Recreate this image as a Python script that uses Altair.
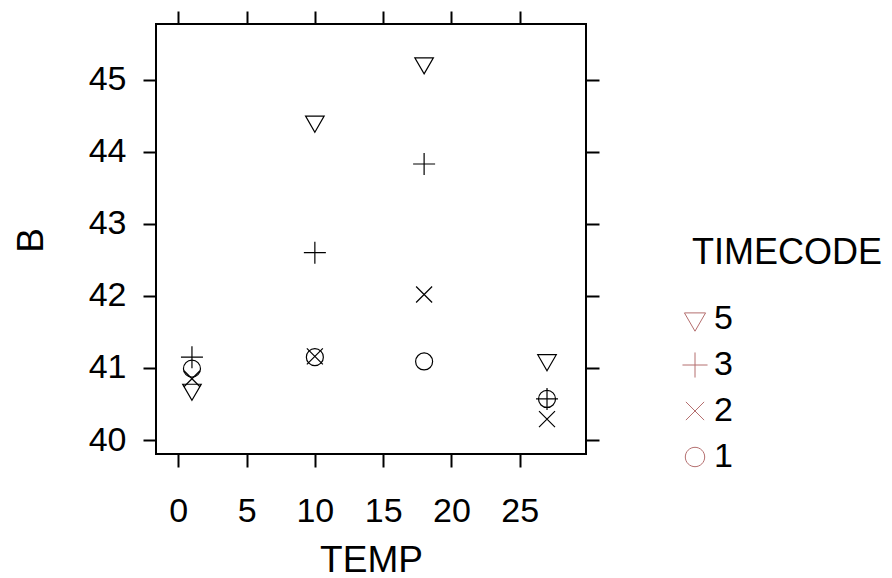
import altair as alt
import pandas as pd

# ---- data ----
temps = [1, 10, 18, 27]
timecode_order = ["5", "3", "2", "1"]
b_tc1 = [40.99, 41.15, 41.09, 40.57]
b_tc2 = [40.85, 41.16, 42.02, 40.29]
b_tc3 = [41.15, 42.60, 43.83, 40.57]
b_tc5 = [40.70, 44.42, 45.23, 41.11]
x_ticks = [0, 5, 10, 15, 20, 25]
y_ticks = [40, 41, 42, 43, 44, 45]

rows = []
for tc, vals in [("1", b_tc1), ("2", b_tc2), ("3", b_tc3), ("5", b_tc5)]:
    for t, b in zip(temps, vals):
        rows.append({"TEMP": t, "B": b, "TIMECODE": tc})
df = pd.DataFrame(rows)

FONT = "Liberation Sans"
W, H = 430, 430
X_DOM = [-1.633, 29.855]
Y_DOM = [39.806, 45.773]

tri_down = "M0,1.07L0.927,-0.535L-0.927,-0.535Z"
plus = "M-1.1,0L1.1,0M0,-1.1L0,1.1"
cross_x = "M-0.8,-0.8L0.8,0.8M-0.8,0.8L0.8,-0.8"
circle = "M0.85,0A0.85,0.85,0,1,1,-0.85,0A0.85,0.85,0,1,1,0.85,0Z"

xscale = alt.Scale(domain=X_DOM, nice=False, zero=False)
yscale = alt.Scale(domain=Y_DOM, nice=False, zero=False)

points = alt.Chart(df).mark_point(
    filled=False, stroke="black", strokeWidth=1.2, size=400, opacity=1
).encode(
    x=alt.X("TEMP:Q", scale=xscale, axis=alt.Axis(
        values=x_ticks, orient="bottom", domain=False, grid=False,
        tickSize=13, tickWidth=2, tickColor="black",
        labelFont=FONT, labelFontSize=34, labelColor="black", labelPadding=27,
        labelFlush=False,
        title="TEMP", titleFont=FONT, titleFontSize=37, titleFontWeight="normal",
        titleColor="black", titleY=117, titleBaseline="alphabetic")),
    y=alt.Y("B:Q", scale=yscale, axis=alt.Axis(
        values=y_ticks, orient="left", domain=False, grid=False,
        tickSize=13, tickWidth=2, tickColor="black",
        labelFont=FONT, labelFontSize=34, labelColor="black", labelPadding=17,
        labelFlush=False,
        title="B", titleFont=FONT, titleFontSize=37, titleFontWeight="normal",
        titleColor="black", titleX=-114, titleY=216, titleAngle=270,
        titleBaseline="alphabetic", titleAlign="center")),
    shape=alt.Shape("TIMECODE:N",
        scale=alt.Scale(domain=timecode_order, range=[tri_down, plus, cross_x, circle]),
        legend=alt.Legend(
            orient="none", legendX=536, legendY=212, padding=0,
            title="TIMECODE", titleFont=FONT, titleFontSize=36, titleLimit=400,
            titleFontWeight="normal", titleColor="black", titlePadding=30,
            labelFont=FONT, labelFontSize=34, labelColor="black",
            labelOffset=2, symbolOffset=-14,
            symbolSize=520, symbolStrokeWidth=1, symbolStrokeColor="#B46E6E",
            symbolFillColor="transparent", rowPadding=12)),
)

frame_axes = alt.Chart(df).mark_point(opacity=0).encode(
    x=alt.X("TEMP:Q", scale=xscale, axis=alt.Axis(
        values=x_ticks, orient="top", domain=False, grid=False, labels=False,
        tickSize=13, tickWidth=2, tickColor="black", title=None)),
    y=alt.Y("B:Q", scale=yscale, axis=alt.Axis(
        values=y_ticks, orient="right", domain=False, grid=False, labels=False,
        tickSize=13, tickWidth=2, tickColor="black", title=None)),
)

chart = alt.layer(points, frame_axes).resolve_axis(
    x="independent", y="independent"
).properties(
    width=W, height=H,
    background="white",
    autosize=alt.AutoSizeParams(type="none"),
    padding={"left": 156, "top": 24, "right": 306, "bottom": 124},
).configure_view(
    stroke="black", strokeWidth=2
)

chart.save("out.html", embed_options={"renderer": "svg", "actions": False})
